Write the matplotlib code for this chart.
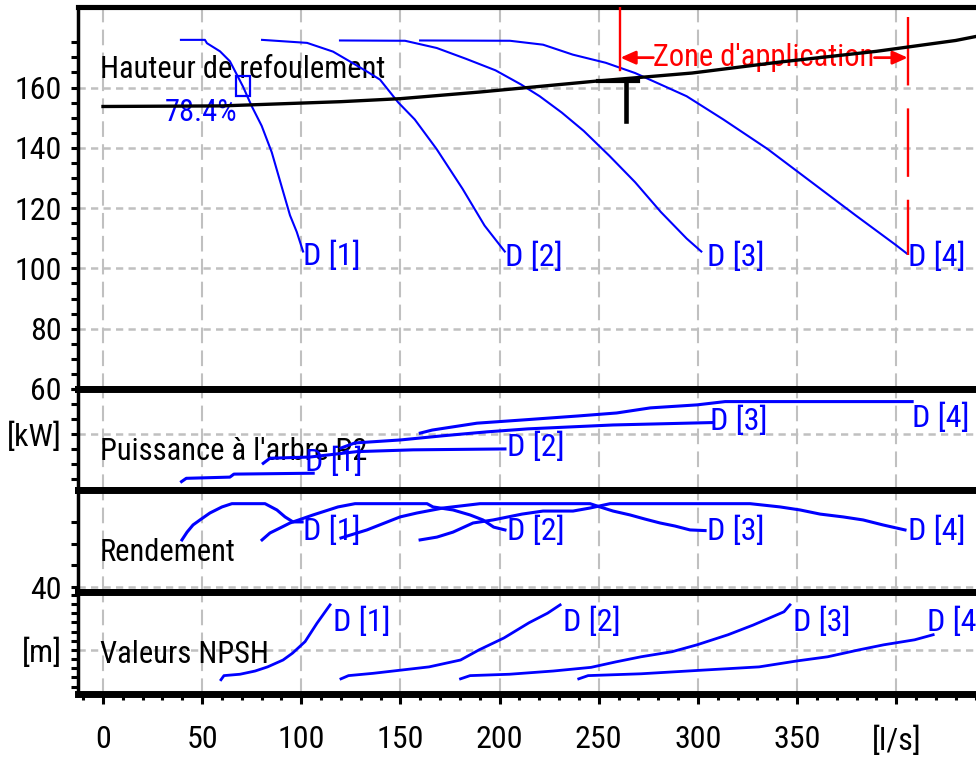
"""
Pump selection sheet: head, shaft power, efficiency and NPSH curves
for four impeller sizes D[1]..D[4] on a common flow axis.
"""

import matplotlib
matplotlib.use('Agg')
import matplotlib.pyplot as plt
from matplotlib.patches import Rectangle
from matplotlib.ticker import FixedLocator, MultipleLocator

plt.rcParams['font.family'] = ['Roboto Condensed', 'Liberation Sans', 'DejaVu Sans']

# ---- data (flow in l/s) ----
# head curves H(Q) [m]
head_q = [[39.3, 51.4, 52.4, 59.0, 64.0, 66.6, 70.6, 75.0, 80.0, 85.1, 90.9, 94.3, 97.7, 100.9],
          [80.2, 102.9, 116.0, 124.6, 133.1, 139.7, 148.8, 157.2, 168.2, 181.3, 192.4, 202.6],
          [119.5, 152.3, 168.3, 183.1, 197.9, 210.8, 220.2, 231.3, 242.4, 255.4, 268.3, 281.3, 294.3, 301.7],
          [159.9, 205.2, 221.9, 236.9, 253.5, 268.3, 283.2, 294.3, 312.8, 335.1, 357.3, 379.5, 399.9, 405.4]]
head_h = [[175.8, 175.8, 174.7, 172.0, 168.7, 165.4, 160.3, 153.8, 147.3, 138.5, 125.3, 117.6, 112.1, 105.6],
          [175.8, 174.8, 171.9, 168.6, 165.3, 162.6, 155.1, 149.4, 139.6, 126.4, 114.2, 105.6],
          [175.6, 175.5, 173.1, 169.5, 165.7, 161.0, 157.1, 151.7, 145.6, 137.3, 128.6, 118.7, 109.9, 105.6],
          [175.6, 175.5, 174.2, 170.9, 168.2, 164.8, 160.4, 157.1, 149.4, 139.6, 128.6, 117.6, 107.7, 104.9]]

# system curve
sys_q = [0, 60, 120, 150, 190, 250, 297, 342, 390, 430, 440]
sys_h = [153.7, 153.9, 155.3, 156.3, 158.5, 162.2, 164.8, 168.5, 172.0, 175.6, 176.9]

# duty point and best efficiency point
duty_q, duty_h, duty_foot = 263.7, 162.2, 148.8
bep_q, bep_h, bep_eta = 70.6, 160.5, 78.4

# application zone limits
zone_q = (260.9, 405.8)

# shaft power P2 [kW]
pow_q = [[39.6, 42.0, 64.0, 66.0, 106.0],
         [80.8, 84.2, 104.4, 127.9, 156.3, 202.7],
         [120.0, 127.0, 150.0, 171.5, 193.6, 214.3, 257.2, 307.0],
         [160.0, 166.0, 188.6, 212.3, 239.5, 259.0, 276.0, 299.5, 313.7, 408.0]]
pow_p = [[34.1, 35.2, 35.6, 36.6, 36.9],
         [40.2, 41.9, 42.3, 44.1, 44.7, 45.0],
         [45.3, 47.0, 48.0, 49.4, 50.7, 51.7, 53.0, 53.8],
         [50.3, 51.3, 53.6, 54.7, 56.0, 57.0, 58.7, 59.7, 60.8, 60.8]]

# efficiency [%]
eff_q = [[39.8, 42.4, 45.4, 48.9, 53.9, 60.0, 65.0, 81.7, 87.7, 91.8, 95.8, 100.4],
         [80.2, 84.2, 89.3, 94.3, 105.9, 118.5, 127.1, 163.4, 166.4, 176.5, 185.1, 191.6, 197.0, 202.7],
         [120.0, 133.1, 149.8, 158.3, 171.5, 190.1, 245.6, 250.6, 257.2, 265.8, 273.3, 280.9, 288.4, 296.0, 303.6],
         [159.9, 168.4, 176.5, 186.6, 196.7, 211.3, 221.9, 237.0, 245.6, 255.7, 326.3, 341.4, 351.5,
          361.6, 373.2, 383.3, 393.3, 404.4]]
eff_e = [[61.7, 65.3, 68.6, 70.9, 74.1, 76.9, 78.4, 78.4, 75.5, 72.3, 70.0, 70.0],
         [61.7, 64.9, 67.2, 69.5, 73.2, 76.9, 78.4, 78.4, 76.9, 75.5, 73.2, 70.9, 67.6, 66.3],
         [62.6, 66.3, 72.3, 74.1, 76.4, 78.4, 78.4, 76.9, 75.0, 73.2, 71.3, 69.5, 68.1, 66.3, 66.0],
         [61.7, 63.0, 65.3, 69.5, 70.9, 73.6, 75.0, 75.0, 76.4, 78.4, 78.4, 76.9, 75.5,
          73.6, 72.3, 70.9, 68.6, 66.3]]

# NPSH required [m]
npsh_q = [[59.5, 61.0, 69.1, 76.7, 83.0, 90.8, 95.6, 101.9, 107.9, 114.5],
          [120.0, 123.8, 136.2, 150.3, 164.4, 180.3, 189.6, 202.2, 214.8, 224.2, 230.5],
          [180.3, 185.1, 205.0, 227.0, 246.1, 258.7, 271.3, 286.9, 299.5, 315.2, 327.8, 343.4, 346.4],
          [239.9, 244.6, 271.3, 302.6, 330.8, 350.0, 365.4, 381.1, 393.6, 409.3, 418.6]]
npsh_n = [[3.5, 4.4, 4.7, 5.4, 6.3, 7.8, 9.3, 11.8, 15.8, 19.8],
          [3.7, 4.4, 4.9, 5.6, 6.3, 7.8, 10.0, 12.6, 15.9, 18.0, 19.8],
          [3.7, 4.4, 4.7, 5.4, 6.2, 7.4, 8.5, 9.6, 11.1, 13.3, 15.4, 18.3, 19.8],
          [3.7, 4.4, 4.8, 5.6, 6.3, 7.6, 8.5, 10.0, 11.1, 12.2, 13.3]]

x_ticks = [0, 50, 100, 150, 200, 250, 300, 350, 400]
x_ticklabels = ['0', '50', '100', '150', '200', '250', '300', '350', '[l/s]']

# ---- label placement (q, y) ----
head_lbl = [(100.9, 104.3), (202.7, 103.9), (304.5, 103.8), (406.1, 103.9)]
pow_lbl = [(101.9, 40.7), (203.7, 45.7), (306.1, 54.3), (408.0, 55.3)]
eff_lbl = [(100.9, 65.8), (203.7, 65.8), (304.6, 65.8), (406.0, 65.8)]
npsh_lbl = [(116.0, 16.1), (232.0, 16.1), (348.0, 16.1), (415.5, 16.1)]

BLUE = '#0000ff'
GRID = '#c0c0c0'
FS = 23
FS_T = 22

fig = plt.figure(figsize=(9.76, 7.63), dpi=100)
left = 78 / 976


def panel(top_px, bot_px):
    return fig.add_axes([left, 1 - bot_px / 763, 1 - left, (bot_px - top_px) / 763])


ax_h = panel(7, 389)
ax_p = panel(389, 490)
ax_e = panel(490, 592)
ax_n = panel(592, 694)
axes = [ax_h, ax_p, ax_e, ax_n]

for ax in axes:
    ax.set_xlim(-12.6, 440.2)
    ax.set_axisbelow(True)
    ax.spines['right'].set_visible(False)
    ax.spines['left'].set_linewidth(2.5)
    ax.spines['top'].set_linewidth(5)
    ax.spines['bottom'].set_linewidth(5)
    ax.xaxis.set_major_locator(FixedLocator(x_ticks))
    ax.grid(axis='x', color=GRID, lw=1.5, ls=(0, (7.5, 3.5)))
    ax.grid(axis='y', which='major', color=GRID, lw=1.8, ls=(0, (2.9, 2.1)))
    ax.tick_params(axis='x', which='both', bottom=False, labelbottom=False)
    ax.tick_params(axis='y', which='both', direction='out', length=5, width=2.2,
                   labelsize=FS, pad=6.5)
ax_h.spines['top'].set_linewidth(3.7)

# y scales
ax_h.set_ylim(60, 186.7)
ax_h.yaxis.set_major_locator(FixedLocator([60, 80, 100, 120, 140, 160]))
ax_h.yaxis.set_minor_locator(FixedLocator([v for v in range(65, 180, 5) if v % 20]))

ax_p.set_ylim(31.3, 65)
ax_p.yaxis.set_major_locator(FixedLocator([50]))
ax_p.yaxis.set_minor_locator(FixedLocator([35, 40, 45, 55, 60, 65]))
ax_p.set_yticklabels(['[kW]'])

ax_e.set_ylim(37.7, 84.7)
ax_e.yaxis.set_major_locator(FixedLocator([40]))
ax_e.yaxis.set_minor_locator(FixedLocator([50, 60, 70]))
ax_e.set_yticklabels(['40'])

ax_n.set_ylim(0.4, 22.6)
ax_n.yaxis.set_major_locator(FixedLocator([10]))
ax_n.yaxis.set_minor_locator(FixedLocator([2, 4, 6, 8, 12, 14, 16, 18, 20, 22]))
ax_n.set_yticklabels(['[m]'])

# flow axis on the bottom panel only
ax_n.xaxis.set_minor_locator(MultipleLocator(10))
ax_n.tick_params(axis='x', which='both', bottom=True, labelbottom=True,
                 direction='out', width=2.2, labelsize=FS, pad=15)
ax_n.tick_params(axis='x', which='major', length=7.5)
ax_n.tick_params(axis='x', which='minor', length=4)
ax_n.set_xticklabels(x_ticklabels)

# panel titles
ax_h.text(-1.5, 166.0, 'Hauteur de refoulement', fontsize=FS_T, va='center', zorder=2.5)
ax_p.text(-1.5, 44.0, "Puissance à l'arbre P2", fontsize=FS_T, va='center', zorder=2.5)
ax_e.text(-1.5, 55.7, 'Rendement', fontsize=FS_T, va='center', zorder=2.5)
ax_n.text(-1.5, 8.9, 'Valeurs NPSH', fontsize=FS_T, va='center', zorder=2.5)

# curves and their labels
for k in range(4):
    name = 'D [%d]' % (k + 1)
    ax_h.plot(head_q[k], head_h[k], color=BLUE, lw=1.5, zorder=3)
    ax_p.plot(pow_q[k], pow_p[k], color=BLUE, lw=2.2, zorder=3)
    ax_e.plot(eff_q[k], eff_e[k], color=BLUE, lw=2.2, zorder=3)
    ax_n.plot(npsh_q[k], npsh_n[k], color=BLUE, lw=2.0, zorder=3)
    for ax, pos in ((ax_h, head_lbl), (ax_p, pow_lbl), (ax_e, eff_lbl), (ax_n, npsh_lbl)):
        ax.text(pos[k][0], pos[k][1], name, color=BLUE, fontsize=FS,
                ha='left', va='center', zorder=3.5)

# system curve and duty point
ax_h.plot(sys_q, sys_h, color='black', lw=2.4, zorder=4)
ax_h.plot([duty_q, duty_q], [duty_h, duty_foot], color='black', lw=3.3, zorder=4)
ax_h.plot([duty_q - 14, duty_q + 6], [duty_h, duty_h], color='black', lw=3.0, zorder=4)

# best efficiency point
ax_h.add_patch(Rectangle((bep_q - 3.3, bep_h - 3.3), 6.6, 6.6, fill=False,
                         edgecolor=BLUE, lw=1.6, zorder=3))
ax_h.text(31.3, 151.6, '%.1f%%' % bep_eta, color=BLUE, fontsize=FS_T,
          ha='left', va='center', zorder=3)

# application zone
ax_h.plot([zone_q[0], zone_q[0]], [186.7, 165.9], color='red', lw=1.7, zorder=3)
ax_h.plot([zone_q[1], zone_q[1]], [183.4, 104.3], color='red', lw=1.7,
          ls=(0, (29, 9.7)), zorder=3)
arrow_h = 169.9
ax_h.text(333.2, arrow_h, "Zone d'application", color='red', fontsize=FS_T,
          ha='center', va='center', zorder=3)
arrow = dict(arrowstyle='-|>,head_length=0.45,head_width=0.2', color='red',
             lw=2, shrinkA=0, shrinkB=0, mutation_scale=20)
ax_h.annotate('', xy=(zone_q[0], arrow_h), xytext=(277.5, arrow_h), arrowprops=arrow)
ax_h.annotate('', xy=(zone_q[1], arrow_h), xytext=(389.0, arrow_h), arrowprops=arrow)

fig.savefig('out.png', dpi=100)
